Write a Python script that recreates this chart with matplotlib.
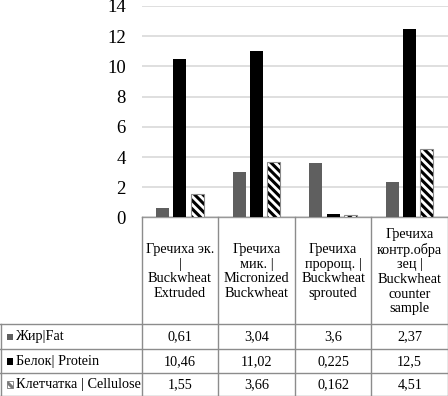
import matplotlib
matplotlib.use("Agg")
import matplotlib.pyplot as plt
import numpy as np
from matplotlib.lines import Line2D
from matplotlib.patches import Rectangle
from matplotlib.transforms import blended_transform_factory

categories = ["Гречиха эк.\n|\nBuckwheat\nExtruded",
              "Гречиха\nмик. |\nMicronized\nBuckwheat",
              "Гречиха\nпророщ. |\nBuckwheat\nsprouted",
              "Гречиха\nконтр.обра\nзец |\nBuckwheat\ncounter\nsample"]
series_names = ["Жир|Fat", "Белок| Protein", "Клетчатка | Cellulose"]
fat = [0.61, 3.04, 3.6, 2.37]
protein = [10.46, 11.02, 0.225, 12.5]
cellulose = [1.55, 3.66, 0.162, 4.51]
yticks = [0, 2, 4, 6, 8, 10, 12, 14]

plt.rcParams['font.family'] = ['Liberation Serif', 'DejaVu Serif']
plt.rcParams['hatch.linewidth'] = 2.2

W, H = 448, 396
fig = plt.figure(figsize=(W / 100, H / 100), dpi=100)

x0, xr, ybase, ytop = 141.7, 448, 217.5, 6
ax = fig.add_axes([x0 / W, 1 - ybase / H, (xr - x0) / W, (ybase - ytop) / H])

x = np.arange(len(categories))
bw = 0.17
off = 0.224
ax.bar(x - off, fat, bw, color="#5f5f5f", zorder=3)
ax.bar(x, protein, bw, color="black", zorder=3)
ax.bar(x + off, cellulose, bw, color="white", edgecolor="black", hatch="\\\\\\\\",
       linewidth=0, zorder=3)
ax.bar(x + off, cellulose, bw, fill=False, edgecolor="#8a8a8a", linewidth=0.8, zorder=4)

ax.set_xlim(-0.5, 3.5)
ax.set_ylim(0, 14)
ax.set_yticks(yticks)
ax.set_yticklabels([str(t) for t in yticks], fontsize=13.5)
ax.tick_params(axis="y", length=0, pad=11.5)
ax.set_xticks([])
ax.grid(axis="y", color="#d9d9d9", linewidth=1.2, zorder=0)
for s in ["left", "right", "top"]:
    ax.spines[s].set_visible(False)
ax.spines["bottom"].set_color("#999999")
ax.spines["bottom"].set_linewidth(1)
ax.set_facecolor("none")


# data table under the chart
def fy(py):
    return 1 - py / H


def fx(px):
    return px / W


lc = "#8c8c8c"
rows_y = [324.3, 349.3, 373.3, 395.6]
for ry in rows_y:
    fig.add_artist(Line2D([0, 1], [fy(ry), fy(ry)], color=lc, lw=1, transform=fig.transFigure))
fig.add_artist(Line2D([fx(0.5), fx(0.5)], [fy(324.3), fy(396)], color=lc, lw=1,
                      transform=fig.transFigure))
tr = blended_transform_factory(ax.transData, fig.transFigure)
for b in np.arange(-0.5, len(categories), 1.0):
    xb = min(b, 3.497)
    fig.add_artist(Line2D([xb, xb], [fy(ybase), fy(396)], color=lc, lw=1, transform=tr))

for i, c in enumerate(categories):
    fig.text(x[i], fy(271.5), c, transform=tr, ha="center", va="center",
             fontsize=10.3, linespacing=1.17)

row_centers = [336.8, 361.3, 384.7]
for vals, name, yc in zip([fat, protein, cellulose], series_names, row_centers):
    fig.text(fx(16), fy(yc), name, ha="left", va="center", fontsize=10.3)
    for i, v in enumerate(vals):
        fig.text(x[i], fy(yc), str(v).replace(".", ","), transform=tr,
                 ha="center", va="center", fontsize=10.3)

ks = 6.5
keys = [dict(facecolor="#5f5f5f", edgecolor="none"),
        dict(facecolor="black", edgecolor="none"),
        dict(facecolor="white", edgecolor="#777777", hatch="\\\\\\\\", linewidth=0.6)]
for k, yc in zip(keys, row_centers):
    fig.add_artist(Rectangle((fx(6.5), fy(yc + ks / 2)), ks / W, ks / H,
                             transform=fig.transFigure, **k))

fig.savefig("out.png", dpi=100)
